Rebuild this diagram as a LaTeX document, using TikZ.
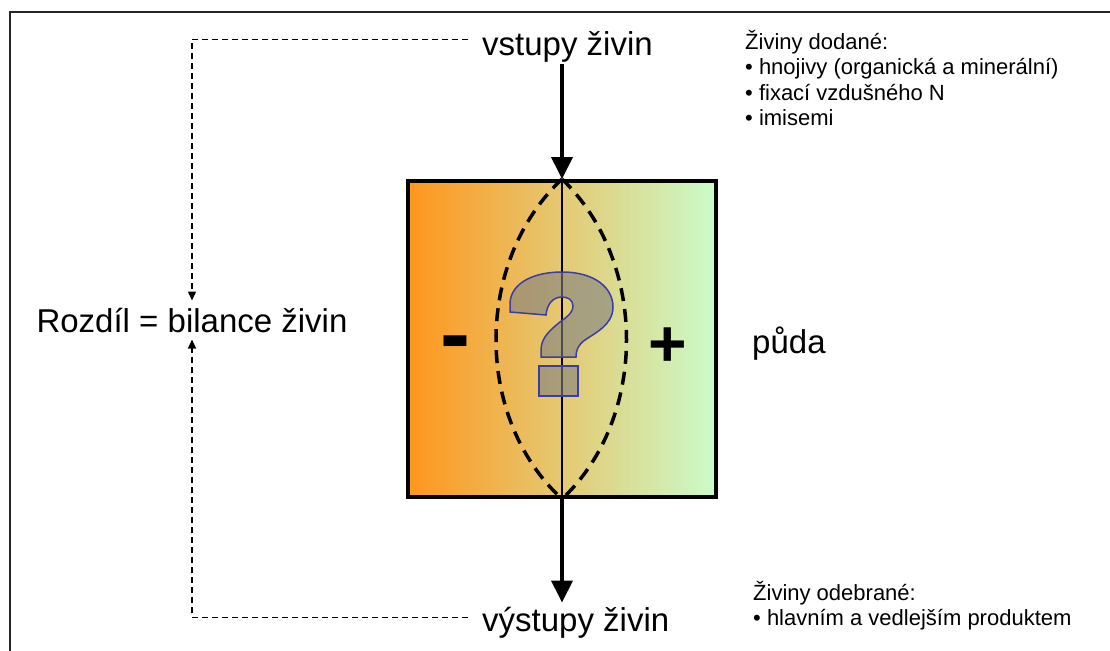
\documentclass[tikz,border=0pt]{standalone}
\usepackage{fontspec}
\setmainfont{Liberation Sans}
\usepackage{xcolor}
\usetikzlibrary{arrows.meta, positioning, calc}

\definecolor{soilorange}{RGB}{255,150,28}
\definecolor{soiltan}{RGB}{232,212,155}
\definecolor{soilgreen}{RGB}{202,252,202}
\definecolor{qblue}{RGB}{60,60,165}

\tikzset{
  bigtext/.style={font=\fontsize{33}{40}\selectfont, inner sep=0pt},
  smalltext/.style={font=\fontsize{22}{25.5}\selectfont, align=left, inner sep=0pt},
  flow/.style={line width=4pt, -{Triangle[length=22pt,width=21pt]}},
  feedback/.style={line width=1.5pt, dash pattern=on 6pt off 4pt,
    -{Triangle[length=9pt,width=8pt]}},
  lens/.style={line width=3.5pt, dash pattern=on 13pt off 8pt},
}

\begin{document}
\begin{tikzpicture}[x=1pt, y=-1pt]
  \useasboundingbox (0,0) rectangle (1110,650);
  \clip (0,0) rectangle (1110,650);

  % Frame
  \draw[line width=2pt, black!85] (10,12) rectangle (1130,670);

  % --- Soil box with gradient ---
  \node[draw, line width=4pt, minimum width=308pt, minimum height=316pt,
        left color=soilorange, middle color=soiltan, right color=soilgreen]
        (puda) at (562,339) {};
  \node[bigtext, anchor=base west] (pudalabel) at (752,353) {půda};

  % Inputs and outputs
  \node[bigtext, anchor=base west] (vstup) at (482,56) {vstupy živin};
  \node[bigtext, anchor=base west] (vystup) at (482,631) {výstupy živin};
  \node[bigtext, anchor=base] (rozdil) at (192,332) {Rozdíl = bilance živin};

  \draw[flow] ([yshift=-1pt]vstup.south -| puda.north) -- (puda.north);
  \draw[flow] (puda.south) -- ([yshift=4pt]puda.south |- vystup.north);

  % Line through the box and the dashed range
  \draw[line width=2pt] (puda.north) -- (puda.south);
  \draw[lens] (puda.north) .. controls (474,262) and (474,418) .. (puda.south);
  \draw[lens] (puda.north) .. controls (648,262) and (648,418) .. (puda.south);

  % --- Question mark ---
  \filldraw[qblue, line width=1.5pt, fill=gray, fill opacity=0.6]
    (510,302) .. controls (512,282) and (535,272) .. (562,272)
    .. controls (595,272) and (613,288) .. (613,307)
    .. controls (613,325) and (595,333) .. (585,340)
    .. controls (578,345) and (576,350) .. (576,357)
    -- (541,357) -- (541,350)
    .. controls (541,338) and (550,330) .. (560,322)
    .. controls (570,315) and (573,311) .. (573,306)
    .. controls (573,300) and (568,297) .. (562,297)
    .. controls (553,297) and (547,304) .. (546,315)
    -- (510,312) -- cycle;
  \filldraw[qblue, line width=1.5pt, fill=gray, fill opacity=0.6]
    (539,366) rectangle (578,396);

  % Signs
  \node[font=\fontsize{90}{90}\selectfont\bfseries] (minus) at (455,350) {-};
  \node[font=\fontsize{66}{66}\selectfont\bfseries] (plus) at (668,347) {+};

  % Balance (dashed feedback)
  \node[smalltext, anchor=north west] (dodane) at (745,30)
    {Živiny dodané:\\• hnojivy (organická a minerální)\\• fixací vzdušného N\\• imisemi};
  \node[smalltext, anchor=north west] (odebrane) at (753,581)
    {Živiny odebrané:\\• hlavním a vedlejším produktem};

  \draw[feedback] ([xshift=-14pt, yshift=8pt]vstup.west) -| ([yshift=7pt]rozdil.north);
  \draw[feedback] ([xshift=-14pt, yshift=5pt]vystup.west) -| ([yshift=-7pt]rozdil.south);

\end{tikzpicture}
\end{document}
